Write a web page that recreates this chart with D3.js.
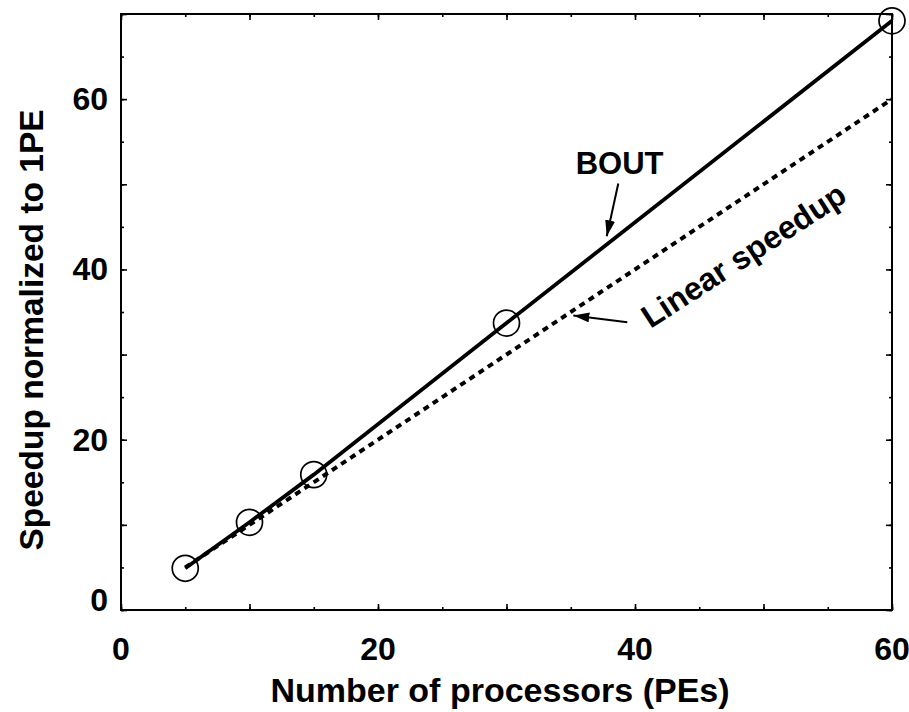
<!DOCTYPE html>
<html>
<head>
<meta charset="utf-8">
<script src="https://cdn.jsdelivr.net/npm/d3@7"></script>
<style>
  body { margin: 0; background: #fff; }
  text { font-family: "Liberation Sans", Arial, sans-serif; font-weight: bold; fill: #000; }
</style>
</head>
<body>
<div id="chart"></div>
<script>
// data
var procs = [5, 10, 15, 30, 60];
var bout = [4.9, 10.3, 15.9, 33.7, 69.2];
var linearX = [5, 60];
var linearY = [5, 60];
var xLabels = [0, 20, 40, 60];
var yLabels = [0, 20, 40, 60];

var width = 909, height = 712;
var plot = {left: 121, right: 892, top: 14, bottom: 610};

var svg = d3.select("#chart").append("svg")
  .attr("width", width)
  .attr("height", height);

var defs = svg.append("defs");
defs.append("marker")
  .attr("id", "head")
  .attr("viewBox", "0 0 16 10")
  .attr("refX", 16)
  .attr("refY", 5)
  .attr("markerWidth", 16)
  .attr("markerHeight", 10)
  .attr("markerUnits", "userSpaceOnUse")
  .attr("orient", "auto")
  .append("path")
  .attr("d", "M0,0 L16,5 L0,10 Z")
  .attr("fill", "#000");

var x = d3.scaleLinear().domain([0, 60]).range([plot.left, plot.right]);
var y = d3.scaleLinear().domain([0, 70]).range([plot.bottom, plot.top]);

var minorX = d3.range(0, 61, 5), majorX = d3.range(0, 61, 10);
var minorY = d3.range(0, 71, 5), majorY = d3.range(0, 71, 10);

// tick marks, all pointing in
function ticks(axis, tv, size, tr) {
  var g = svg.append("g")
    .attr("transform", tr)
    .call(axis.tickValues(tv).tickSize(-size).tickFormat(""));
  g.select(".domain").remove();
  g.selectAll("line").attr("stroke", "#000").attr("stroke-width", 1.6);
}
ticks(d3.axisBottom(x), minorX, 3, "translate(0," + plot.bottom + ")");
ticks(d3.axisBottom(x), majorX, 6, "translate(0," + plot.bottom + ")");
ticks(d3.axisTop(x), minorX, 3, "translate(0," + plot.top + ")");
ticks(d3.axisTop(x), majorX, 6, "translate(0," + plot.top + ")");
ticks(d3.axisLeft(y), minorY, 3, "translate(" + plot.left + ",0)");
ticks(d3.axisLeft(y), majorY, 6, "translate(" + plot.left + ",0)");
ticks(d3.axisRight(y), minorY, 3, "translate(" + plot.right + ",0)");
ticks(d3.axisRight(y), majorY, 6, "translate(" + plot.right + ",0)");

// frame
svg.append("rect")
  .attr("x", plot.left)
  .attr("y", plot.top)
  .attr("width", plot.right - plot.left)
  .attr("height", plot.bottom - plot.top)
  .attr("fill", "none")
  .attr("stroke", "#000")
  .attr("stroke-width", 2);

// tick labels
svg.append("g").selectAll("text")
  .data(xLabels)
  .join("text")
  .attr("x", d => x(d))
  .attr("y", plot.bottom + 50)
  .attr("text-anchor", "middle")
  .style("font-size", "32px")
  .text(d => d);

svg.append("g").selectAll("text")
  .data(yLabels)
  .join("text")
  .attr("x", plot.left - 13)
  .attr("y", d => y(d) + (d === 0 ? 1 : 11))
  .attr("text-anchor", "end")
  .style("font-size", "32px")
  .text(d => d);

// axis titles
svg.append("text")
  .attr("x", 500)
  .attr("y", 702)
  .attr("text-anchor", "middle")
  .style("font-size", "34px")
  .text("Number of processors (PEs)");

svg.append("text")
  .attr("transform", "translate(43,330) rotate(-90)")
  .attr("text-anchor", "middle")
  .style("font-size", "33.5px")
  .text("Speedup normalized to 1PE");

// linear speedup (dashed)
var line = d3.line().x(d => x(d[0])).y(d => y(d[1]));

svg.append("path")
  .datum(d3.zip(linearX, linearY))
  .attr("d", line)
  .attr("fill", "none")
  .attr("stroke", "#000")
  .attr("stroke-width", 4)
  .attr("stroke-dasharray", "6,5");

// BOUT measured
svg.append("path")
  .datum(d3.zip(procs, bout))
  .attr("d", line)
  .attr("fill", "none")
  .attr("stroke", "#000")
  .attr("stroke-width", 3.8);

svg.append("g").selectAll("circle")
  .data(d3.zip(procs, bout))
  .join("circle")
  .attr("cx", d => x(d[0]))
  .attr("cy", d => y(d[1]))
  .attr("r", 13)
  .attr("fill", "none")
  .attr("stroke", "#000")
  .attr("stroke-width", 1.7);

// annotations
svg.append("text")
  .attr("x", x(38.8))
  .attr("y", y(51.2))
  .attr("text-anchor", "middle")
  .style("font-size", "31px")
  .text("BOUT");

svg.append("line")
  .attr("x1", x(38.7)).attr("y1", y(50.1))
  .attr("x2", x(37.8)).attr("y2", y(43.9))
  .attr("stroke", "#000")
  .attr("stroke-width", 2)
  .attr("marker-end", "url(#head)");

svg.append("text")
  .attr("transform", "translate(" + x(41.2) + "," + y(33.0) + ") rotate(-33)")
  .style("font-size", "32px")
  .text("Linear speedup");

svg.append("line")
  .attr("x1", x(39.4)).attr("y1", y(33.8))
  .attr("x2", x(35.2)).attr("y2", y(34.6))
  .attr("stroke", "#000")
  .attr("stroke-width", 2)
  .attr("marker-end", "url(#head)");
</script>
</body>
</html>
